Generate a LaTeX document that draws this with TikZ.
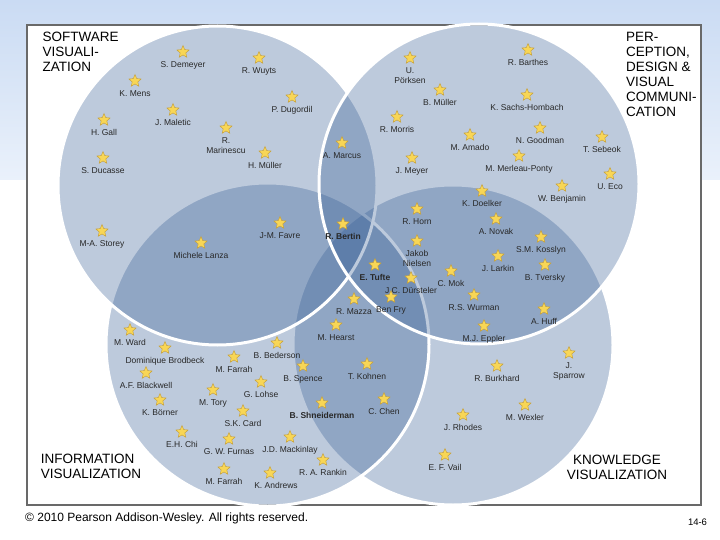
\documentclass[tikz,border=0pt]{standalone}
\usepackage{fontspec}
\setmainfont{Liberation Sans}
\usepackage{xcolor}
\usetikzlibrary{shapes.geometric,positioning}

\definecolor{circblue}{RGB}{55,95,150}
\definecolor{starfill}{RGB}{248,214,86}
\definecolor{staredge}{RGB}{196,156,52}
\definecolor{framegray}{RGB}{105,105,105}
\definecolor{namegray}{RGB}{40,40,40}
\definecolor{bgtop}{RGB}{202,219,243}
\definecolor{bgbot}{RGB}{234,241,251}

\tikzset{
  field/.style={fill=circblue, fill opacity=0.33, draw=white, draw opacity=1, line width=3pt},
  gold/.style={star, star points=5, star point ratio=2.2, minimum size=13pt, inner sep=0pt,
    fill=starfill, draw=staredge, line width=0.4pt},
  who/.style={font=\fontsize{8.5}{10}\selectfont, text=namegray, align=center, inner sep=0pt},
  area/.style={font=\fontsize{13.5}{15}\selectfont, inner sep=0pt}
}

\begin{document}
\begin{tikzpicture}[x=1pt,y=-1pt]
\useasboundingbox (0,0) rectangle (720,540);
\shade [top color=bgtop, bottom color=bgbot] (0,0) rectangle (720,180);
\draw [draw=framegray, line width=1.5pt, fill=white] (27,25) rectangle (701,505);

\draw [field] (453,345) circle [radius=160pt];
\draw [field] (267.5,344.5) circle [radius=161.5pt];
\draw [field] (217.5,185.5) circle [radius=159.5pt];
\draw [field] (479,184) circle [radius=160pt];

\node [area, anchor=north west, align=left] (softvis) at (42.5,32) {SOFTWARE\\VISUALI-\\ZATION};
\node [area, anchor=north west, align=left] (percvis) at (626,32) {PER-\\CEPTION,\\DESIGN \&\\VISUAL\\COMMUNI-\\CATION};
\node [area, anchor=north west, align=left] (infovis) at (40.7,453.6) {INFORMATION\\VISUALIZATION};
\node [area, anchor=north, align=center] (knowvis) at (617,455.3) {KNOWLEDGE\\VISUALIZATION};

\node [gold] (demeyer) at (183,52) {}; \node [who, below=9pt of demeyer.center] (demeyer-t) {S. Demeyer};
\node [gold] (wuyts) at (259,58) {}; \node [who, below=9pt of wuyts.center] (wuyts-t) {R. Wuyts};
\node [gold] (mens) at (135,81) {}; \node [who, below=9pt of mens.center] (mens-t) {K. Mens};
\node [gold] (dugordil) at (292,97) {}; \node [who, below=9pt of dugordil.center] (dugordil-t) {P. Dugordil};
\node [gold] (maletic) at (173,110) {}; \node [who, below=9pt of maletic.center] (maletic-t) {J. Maletic};
\node [gold] (gall) at (104,120) {}; \node [who, below=9pt of gall.center] (gall-t) {H. Gall};
\node [gold] (marinescu) at (226,128) {}; \node [who, below=9pt of marinescu.center] (marinescu-t) {R.\\Marinescu};
\node [gold] (hmuller) at (265,153) {}; \node [who, below=9pt of hmuller.center] (hmuller-t) {H. Müller};
\node [gold] (ducasse) at (103,158) {}; \node [who, below=9pt of ducasse.center] (ducasse-t) {S. Ducasse};
\node [gold] (marcus) at (342,143) {}; \node [who, below=9pt of marcus.center] (marcus-t) {A. Marcus};
\node [gold] (storey) at (102,231) {}; \node [who, below=9pt of storey.center] (storey-t) {M-A. Storey};
\node [gold] (lanza) at (201,243) {}; \node [who, below=9pt of lanza.center] (lanza-t) {Michele Lanza};
\node [gold] (favre) at (280,223) {}; \node [who, below=9pt of favre.center] (favre-t) {J-M. Favre};

\node [gold] (porksen) at (410,58) {}; \node [who, below=9pt of porksen.center] (porksen-t) {U.\\Pörksen};
\node [gold] (barthes) at (528,50) {}; \node [who, below=9pt of barthes.center] (barthes-t) {R. Barthes};
\node [gold] (bmuller) at (440,90) {}; \node [who, below=9pt of bmuller.center] (bmuller-t) {B. Müller};
\node [gold] (sachs) at (527,95) {}; \node [who, below=9pt of sachs.center] (sachs-t) {K. Sachs-Hombach};
\node [gold] (morris) at (397,117) {}; \node [who, below=9pt of morris.center] (morris-t) {R. Morris};
\node [gold] (goodman) at (540,128) {}; \node [who, below=9pt of goodman.center] (goodman-t) {N. Goodman};
\node [gold] (amado) at (470,135) {}; \node [who, below=9pt of amado.center] (amado-t) {M. Amado};
\node [gold] (sebeok) at (602,137) {}; \node [who, below=9pt of sebeok.center] (sebeok-t) {T. Sebeok};
\node [gold] (meyer) at (412,158) {}; \node [who, below=9pt of meyer.center] (meyer-t) {J. Meyer};
\node [gold] (merleau) at (519,156) {}; \node [who, below=9pt of merleau.center] (merleau-t) {M. Merleau-Ponty};
\node [gold] (eco) at (610,174) {}; \node [who, below=9pt of eco.center] (eco-t) {U. Eco};
\node [gold] (doelker) at (482,191) {}; \node [who, below=9pt of doelker.center] (doelker-t) {K. Doelker};
\node [gold] (benjamin) at (562,186) {}; \node [who, below=9pt of benjamin.center] (benjamin-t) {W. Benjamin};

\node [gold] (horn) at (417,209) {}; \node [who, below=9pt of horn.center] (horn-t) {R. Horn};
\node [gold] (novak) at (496,219) {}; \node [who, below=9pt of novak.center] (novak-t) {A. Novak};
\node [gold] (bertin) at (343,224) {}; \node [who, below=9pt of bertin.center] (bertin-t) {\textbf{R. Bertin}};
\node [gold] (kosslyn) at (541,237) {}; \node [who, below=9pt of kosslyn.center] (kosslyn-t) {S.M. Kosslyn};
\node [gold] (nielsen) at (417,241) {}; \node [who, below=9pt of nielsen.center] (nielsen-t) {Jakob\\Nielsen};
\node [gold] (larkin) at (498,256) {}; \node [who, below=9pt of larkin.center] (larkin-t) {J. Larkin};
\node [gold] (tversky) at (545,265) {}; \node [who, below=9pt of tversky.center] (tversky-t) {B. Tversky};
\node [gold] (tufte) at (375,265) {}; \node [who, below=9pt of tufte.center] (tufte-t) {\textbf{E. Tufte}};
\node [gold] (mok) at (451,271) {}; \node [who, below=9pt of mok.center] (mok-t) {C. Mok};
\node [gold] (dursteler) at (411,278) {}; \node [who, below=9pt of dursteler.center] (dursteler-t) {J.C. Dürsteler};
\node [gold] (mazza) at (354,299) {}; \node [who, below=9pt of mazza.center] (mazza-t) {R. Mazza};
\node [gold] (fry) at (391,297) {}; \node [who, below=9pt of fry.center] (fry-t) {Ben Fry};
\node [gold] (wurman) at (474,295) {}; \node [who, below=9pt of wurman.center] (wurman-t) {R.S. Wurman};
\node [gold] (huff) at (544,309) {}; \node [who, below=9pt of huff.center] (huff-t) {A. Huff};
\node [gold] (hearst) at (336,325) {}; \node [who, below=9pt of hearst.center] (hearst-t) {M. Hearst};
\node [gold] (eppler) at (484,326) {}; \node [who, below=9pt of eppler.center] (eppler-t) {M.J. Eppler};

\node [gold] (ward) at (130,330) {}; \node [who, below=9pt of ward.center] (ward-t) {M. Ward};
\node [gold] (brodbeck) at (165,348) {}; \node [who, below=9pt of brodbeck.center] (brodbeck-t) {Dominique Brodbeck};
\node [gold] (bederson) at (277,343) {}; \node [who, below=9pt of bederson.center] (bederson-t) {B. Bederson};
\node [gold] (farraha) at (234,357) {}; \node [who, below=9pt of farraha.center] (farraha-t) {M. Farrah};
\node [gold] (spence) at (303,366) {}; \node [who, below=9pt of spence.center] (spence-t) {B. Spence};
\node [gold] (blackwell) at (146,373) {}; \node [who, below=9pt of blackwell.center] (blackwell-t) {A.F. Blackwell};
\node [gold] (lohse) at (261,382) {}; \node [who, below=9pt of lohse.center] (lohse-t) {G. Lohse};
\node [gold] (tory) at (213,390) {}; \node [who, below=9pt of tory.center] (tory-t) {M. Tory};
\node [gold] (borner) at (160,400) {}; \node [who, below=9pt of borner.center] (borner-t) {K. Börner};
\node [gold] (card) at (243,411) {}; \node [who, below=9pt of card.center] (card-t) {S.K. Card};
\node [gold] (shneiderman) at (322,403) {}; \node [who, below=9pt of shneiderman.center] (shneiderman-t) {\textbf{B. Shneiderman}};
\node [gold] (chi) at (182,432) {}; \node [who, below=9pt of chi.center] (chi-t) {E.H. Chi};
\node [gold] (furnas) at (229,439) {}; \node [who, below=9pt of furnas.center] (furnas-t) {G. W. Furnas};
\node [gold] (mackinlay) at (290,437) {}; \node [who, below=9pt of mackinlay.center] (mackinlay-t) {J.D. Mackinlay};
\node [gold] (rankin) at (323,460) {}; \node [who, below=9pt of rankin.center] (rankin-t) {R. A. Rankin};
\node [gold] (farrahb) at (224,469) {}; \node [who, below=9pt of farrahb.center] (farrahb-t) {M. Farrah};
\node [gold] (andrews) at (270,473) {}; \node [who, below=9pt of andrews.center, xshift=6pt] (andrews-t) {K. Andrews};

\node [gold] (kohnen) at (367,364) {}; \node [who, below=9pt of kohnen.center] (kohnen-t) {T. Kohnen};
\node [gold] (chen) at (384,399) {}; \node [who, below=9pt of chen.center] (chen-t) {C. Chen};
\node [gold] (burkhard) at (497,366) {}; \node [who, below=9pt of burkhard.center] (burkhard-t) {R. Burkhard};
\node [gold] (sparrow) at (569,353) {}; \node [who, below=9pt of sparrow.center] (sparrow-t) {J.\\Sparrow};
\node [gold] (wexler) at (525,405) {}; \node [who, below=9pt of wexler.center] (wexler-t) {M. Wexler};
\node [gold] (rhodes) at (463,415) {}; \node [who, below=9pt of rhodes.center] (rhodes-t) {J. Rhodes};
\node [gold] (vail) at (445,455) {}; \node [who, below=9pt of vail.center] (vail-t) {E. F. Vail};

\node [anchor=base west, inner sep=0pt, font=\fontsize{12}{14}\selectfont] (rights) at (25,521.5) {© 2010 Pearson Addison-Wesley. All rights reserved.};
\node [anchor=base, inner sep=0pt, font=\fontsize{9.5}{11}\selectfont] (slideno) at (697.5,525.5) {14-6};
\end{tikzpicture}
\end{document}
